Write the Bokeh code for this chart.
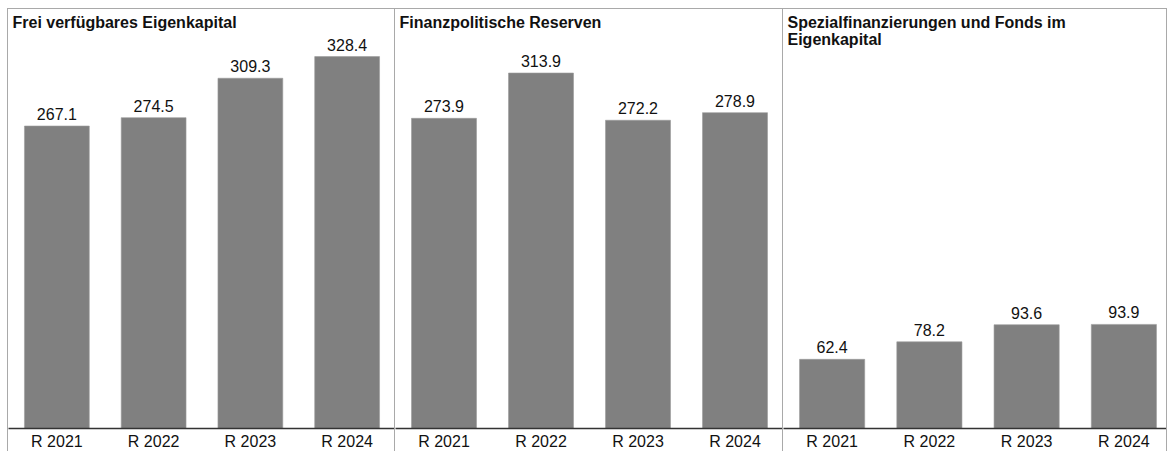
from bokeh.plotting import figure
from bokeh.layouts import row
from bokeh.models import Range1d, FixedTicker, Label, LabelSet, ColumnDataSource
from bokeh.core.properties import value
from bokeh.embed import file_html
from bokeh.resources import INLINE

categories = ["R 2021", "R 2022", "R 2023", "R 2024"]
titles = ["Frei verfügbares Eigenkapital",
          "Finanzpolitische Reserven",
          "Spezialfinanzierungen und Fonds im\nEigenkapital"]
eigenkapital = [267.1, 274.5, 309.3, 328.4]
reserven = [273.9, 313.9, 272.2, 278.9]
spezial = [62.4, 78.2, 93.6, 93.9]

FONT = "Liberation Sans"
BAR = "#808080"
BORDER = "#a9a9a9"

def panel(title, vals, width, x_end, y_end, last=False):
    styles = {"border-left": f"1px solid {BORDER}",
              "border-top": f"1px solid {BORDER}",
              "box-sizing": "border-box"}
    if last:
        styles["border-right"] = f"1px solid {BORDER}"
    p = figure(width=width, height=443, output_backend="svg", toolbar_location=None,
               x_range=Range1d(0, x_end), y_range=Range1d(0, y_end),
               min_border_left=0, min_border_right=0, min_border_top=0,
               min_border_bottom=0, styles=styles)
    p.title.visible = False
    p.outline_line_color = None
    p.grid.visible = False
    p.yaxis.visible = False
    p.background_fill_color = "white"
    p.border_fill_color = "white"
    xs = [i + 0.5 for i in range(len(categories))]
    src = ColumnDataSource(dict(x=xs, top=vals, lab=[f"{v:.1f}" for v in vals]))
    p.vbar(x="x", top="top", bottom=0, width=0.67, source=src,
           fill_color=BAR, line_color="#9a9a9a", line_width=0.6)
    labels = LabelSet(x="x", y="top", text="lab", source=src, text_align="center",
                      text_baseline="alphabetic", y_offset=6, text_font=value(FONT),
                      text_font_size=value("16px"), text_color="#111111")
    p.add_layout(labels)
    ax = p.xaxis[0]
    ax.ticker = FixedTicker(ticks=xs)
    ax.major_label_overrides = {x: c for x, c in zip(xs, categories)}
    ax.major_tick_line_color = None
    ax.minor_tick_line_color = None
    ax.major_tick_out = 0
    ax.major_tick_in = 0
    ax.major_label_standoff = 4
    ax.axis_line_color = "#333333"
    ax.axis_line_width = 1.3
    ax.major_label_text_font = FONT
    ax.major_label_text_font_size = "16px"
    ax.major_label_text_color = "#111111"
    lab = Label(x=0, y=y_end, x_offset=4, y_offset=-4, text=title,
                text_font=FONT, text_font_style="bold", text_font_size="16px",
                text_baseline="top", text_align="left", text_color="#111111",
                text_line_height=1.0)
    p.add_layout(lab)
    return p

p1 = panel(titles[0], eigenkapital, 387, 4, 370)
p2 = panel(titles[1], reserven, 388, 4, 370)
p3 = panel(titles[2], spezial, 385, 384 / 97.0, 378, last=True)

layout = row(p1, p2, p3, spacing=0, margin=(8, 0, 0, 7))
open("out.html", "w").write(file_html(layout, INLINE))
